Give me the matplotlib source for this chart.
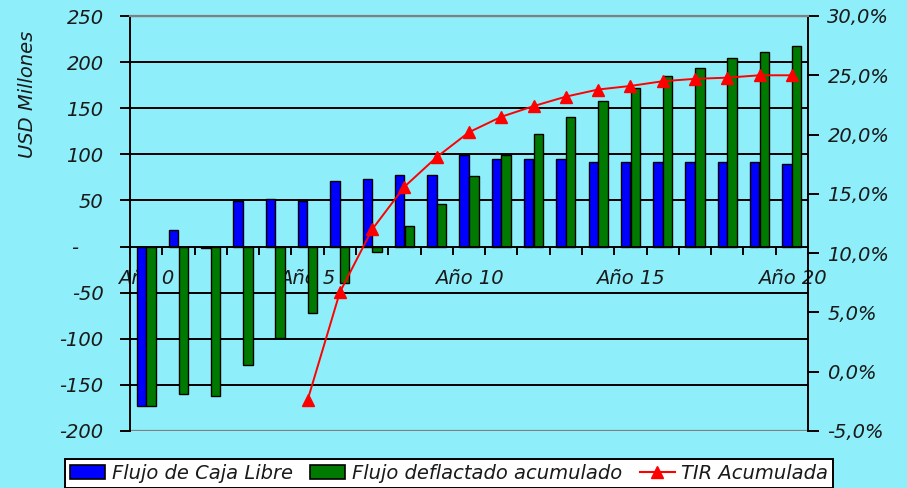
import matplotlib
matplotlib.use("Agg")
import matplotlib.pyplot as plt
from matplotlib.patches import Patch
from matplotlib.lines import Line2D
import numpy as np

years = list(range(21))
year_labels = ["Año 0", "Año 5", "Año 10", "Año 15", "Año 20"]
flujo_caja = [-173, 18, -2, 49, 52, 49, 71, 73, 78, 78, 99, 95, 95, 95, 92, 92, 92, 92, 92, 92, 90]
flujo_defl = [-173, -160, -162, -128, -99, -72, -39, -6, 22, 46, 76, 99, 122, 140, 158, 172, 185, 194, 204, 211, 218]
tir_years = list(range(5, 21))
tir = [-2.4, 6.7, 12.0, 15.6, 18.1, 20.2, 21.5, 22.4, 23.2, 23.8, 24.1, 24.5, 24.7, 24.8, 25.0, 25.0]
left_ticks = [-200, -150, -100, -50, 0, 50, 100, 150, 200, 250]
right_ticks = [-5, 0, 5, 10, 15, 20, 25, 30]

BG = "#8eeffb"
FONT = dict(family="DejaVu Sans", style="italic", size=14, color="#1a1a1a")

fig = plt.figure(figsize=(9.07, 4.88), dpi=100, facecolor=BG)
ax = fig.add_axes([130/907, 1-431/488, (808-130)/907, (431-16)/488])
ax.set_facecolor(BG)

x = np.array(years)
w = 0.29
ax.bar(x - 0.15, flujo_caja, width=w, color="#0000ff", edgecolor="black", linewidth=1.0, zorder=2)
ax.bar(x + 0.15, flujo_defl, width=w, color="#007a00", edgecolor="black", linewidth=1.0, zorder=2)

for v in left_ticks:
    if v in (250, -200):
        ax.axhline(v, color="#808080", linewidth=1.6, zorder=0.5)
    elif v != 0:
        ax.axhline(v, color="black", linewidth=1.4, zorder=0.5)

ax.set_xlim(-0.5, 20.5)
ax.set_ylim(-200, 250)
ax.set_yticks(left_ticks)
ax.set_yticklabels(["-    " if v == 0 else str(v) for v in left_ticks], fontdict=FONT)
ax.tick_params(axis="y", direction="out", length=7, width=1.4, pad=12, colors="black")
for lab in ax.get_yticklabels():
    lab.set_color("#1a1a1a")

ax.spines["bottom"].set_position(("data", 0))
ax.spines["bottom"].set_linewidth(1.4)
ax.spines["left"].set_linewidth(1.4)
ax.spines["right"].set_visible(False)
ax.spines["top"].set_visible(False)
ax.set_xticks([0, 5, 10, 15, 20])
ax.set_xticklabels(year_labels, fontdict=FONT)
ax.set_xticks(np.arange(-0.5, 21, 1), minor=True)
ax.tick_params(axis="x", which="major", length=0, pad=16)
ax.tick_params(axis="x", which="minor", direction="out", length=6, width=1.4)
for lab in ax.get_xticklabels():
    lab.set_zorder(5)

ax.set_ylabel("USD Millones", fontdict=FONT)
ax.yaxis.set_label_coords(-0.137, 0.81)

ax2 = ax.twinx()
ax2.set_position(ax.get_position())
ax2.set_ylim(-5, 30)
ax2.set_yticks(right_ticks)
ax2.set_yticklabels([f"{v:.1f}%".replace(".", ",") for v in right_ticks], fontdict=FONT)
ax2.tick_params(axis="y", direction="out", length=8, width=1.4, pad=6)
ax2.plot(tir_years, tir, color="red", linewidth=1.4, marker="^", markersize=8, zorder=4)
for s in ["left", "bottom"]:
    ax2.spines[s].set_visible(False)
ax2.spines["top"].set_color("#808080")
ax2.spines["top"].set_linewidth(1.6)
ax2.spines["right"].set_linewidth(1.4)

handles = [
    Patch(facecolor="#0000ff", edgecolor="black", linewidth=1.2),
    Patch(facecolor="#007a00", edgecolor="black", linewidth=1.2),
    Line2D([0], [0], color="red", linewidth=1.5, marker="^", markersize=8),
]
labels = ["Flujo de Caja Libre", "Flujo deflactado acumulado", "TIR Acumulada"]
leg = fig.legend(handles, labels, loc="upper left", bbox_to_anchor=(65/907, 1-459/488),
                 ncol=3, frameon=True, fancybox=False, edgecolor="black", facecolor="white",
                 framealpha=1, prop=dict(family="DejaVu Sans", style="italic", size=14),
                 handlelength=1.8, handletextpad=0.35, columnspacing=0.9, borderpad=0.25,
                 borderaxespad=0)
leg.get_frame().set_linewidth(1.4)
for t in leg.get_texts():
    t.set_color("#1a1a1a")

fig.savefig("out.png", dpi=100, facecolor=BG)
